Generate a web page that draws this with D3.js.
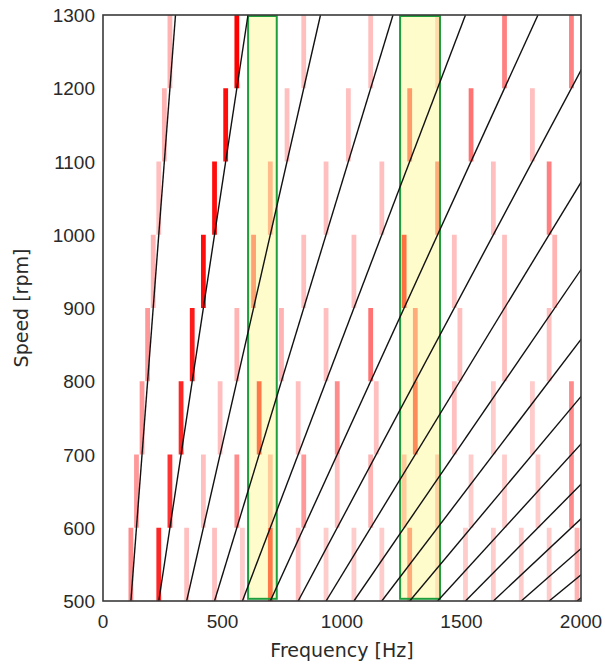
<!DOCTYPE html>
<html>
<head>
<meta charset="utf-8">
<script src="https://cdn.jsdelivr.net/npm/d3@7"></script>
<style>
  body { margin: 0; background: #fff; }
  #chart-area { width: 605px; height: 666px; }
</style>
</head>
<body>
<div id="chart-area"></div>
<script>
// base order of the excitation (bars sit on its harmonics)
var baseOrder = 14;

// lower rpm of each speed band (each band is 100 rpm tall)
var speeds = [500, 600, 700, 800, 900, 1000, 1100, 1200];
var bandHeight = 100;

// amplitude (0..1) of each harmonic, one list per speed band
var amp500 = [0.45, 0.85, 0.25, 0.25, 0.2, 0.8, 0.25, 0.2, 0.2, 0.2, 0.5, 0.15, 0.2, 0.2, 0.2, 0.2, 0.3];
var amp600 = [0.4, 0.8, 0.25, 0.45, 0.3, 0.4, 0.25, 0.3, 0.3, 0.25, 0.2, 0.2, 0.2, 0.45];
var amp700 = [0.4, 0.85, 0.25, 0.8, 0.25, 0.45, 0.25, 0.7, 0.25, 0.2, 0.2, 0.45];
var amp800 = [0.4, 0.9, 0.3, 0.3, 0.25, 0.55, 0.5, 0.25, 0.25, 0.25];
var amp900 = [0.3, 0.95, 0.55, 0.25, 0.25, 0.85, 0.25, 0.25, 0.3];
var amp1000 = [0.25, 0.95, 0.4, 0.25, 0.25, 0.5, 0.25, 0.5];
var amp1100 = [0.3, 0.95, 0.25, 0.25, 0.6, 0.55, 0.25];
var amp1200 = [0.3, 1.0, 0.25, 0.25, 0.2, 0.5, 0.5];
var amps = [amp500, amp600, amp700, amp800, amp900, amp1000, amp1100, amp1200];

// engine orders drawn as lines (multiples of the base order)
var orders = [14, 28, 42, 56, 70, 84, 98, 112, 126, 140, 154, 168, 182, 196, 210, 224, 238];

// highlighted frequency zones [Hz]
var zoneStart = [607, 1243];
var zoneEnd = [727, 1410];

var xTicks = [0, 500, 1000, 1500, 2000];
var yTicks = [500, 600, 700, 800, 900, 1000, 1100, 1200, 1300];

// set the dimensions and margins of the graph
var margin = { top: 15, right: 24, bottom: 65, left: 103 },
  width = 605 - margin.left - margin.right,
  height = 666 - margin.top - margin.bottom;

var svg = d3.select("#chart-area")
  .append("svg")
  .attr("width", 605)
  .attr("height", 666)
  .append("g")
  .attr("transform", "translate(" + margin.left + "," + margin.top + ")");

var x = d3.scaleLinear().domain([0, 2000]).range([0, width]);
var y = d3.scaleLinear().domain([500, 1300]).range([height, 0]);

svg.append("clipPath")
  .attr("id", "plot-clip")
  .append("rect")
  .attr("width", width)
  .attr("height", height);

var plot = svg.append("g").attr("clip-path", "url(#plot-clip)");

// build bars: one per harmonic per band
var bars = [];
speeds.forEach(function(r, i) {
  var f1 = baseOrder * r / 60;
  amps[i].forEach(function(a, j) {
    bars.push({ rpm: r, freq: f1 * (j + 1), amp: a });
  });
});

var barColor = d3.interpolateRgb("#ffffff", "#ff0000");
var halfW = 10; // Hz

plot.append("g")
  .selectAll("rect")
  .data(bars)
  .enter()
  .append("rect")
  .attr("x", function(d) { return x(d.freq - halfW); })
  .attr("width", function(d) { return x(d.freq + halfW) - x(d.freq - halfW); })
  .attr("y", function(d) { return y(d.rpm + bandHeight); })
  .attr("height", function(d) { return y(d.rpm) - y(d.rpm + bandHeight); })
  .style("fill", function(d) { return barColor(d.amp); });

// highlighted zones
plot.append("g")
  .selectAll("rect")
  .data(zoneStart)
  .enter()
  .append("rect")
  .attr("x", function(d) { return x(d); })
  .attr("width", function(d, i) { return x(zoneEnd[i]) - x(d); })
  .attr("y", y(1300) + 1)
  .attr("height", y(503) - y(1300) - 1)
  .style("fill", "rgb(255,248,112)")
  .style("fill-opacity", 0.36)
  .style("stroke", "#1f9e3c")
  .style("stroke-width", 2);

// order lines
plot.append("g")
  .selectAll("line")
  .data(orders)
  .enter()
  .append("line")
  .attr("x1", function(k) { return x(k * 500 / 60); })
  .attr("y1", y(500))
  .attr("x2", function(k) { return x(k * 1300 / 60); })
  .attr("y2", y(1300))
  .style("stroke", "#111")
  .style("stroke-width", 1.4);

// frame
svg.append("rect")
  .attr("width", width)
  .attr("height", height)
  .style("fill", "none")
  .style("stroke", "#3a3a3a")
  .style("stroke-width", 1.6);

// tick labels
svg.append("g")
  .selectAll("text")
  .data(xTicks)
  .enter()
  .append("text")
  .attr("x", function(d) { return x(d); })
  .attr("y", height + 27)
  .attr("text-anchor", "middle")
  .attr("font-family", "Liberation Sans, Arial, sans-serif")
  .attr("font-size", "19px")
  .attr("fill", "#2a2a2a")
  .text(function(d) { return d; });

svg.append("g")
  .selectAll("text")
  .data(yTicks)
  .enter()
  .append("text")
  .attr("x", -8)
  .attr("y", function(d) { return y(d) + 7; })
  .attr("text-anchor", "end")
  .attr("font-family", "Liberation Sans, Arial, sans-serif")
  .attr("font-size", "19px")
  .attr("fill", "#2a2a2a")
  .text(function(d) { return d; });

// axis titles
svg.append("text")
  .attr("x", width / 2)
  .attr("y", height + 56)
  .attr("text-anchor", "middle")
  .attr("font-family", "DejaVu Sans, sans-serif")
  .attr("font-size", "19px")
  .attr("fill", "#2a2a2a")
  .text("Frequency [Hz]");

svg.append("text")
  .attr("transform", "rotate(-90)")
  .attr("x", -height / 2)
  .attr("y", -75)
  .attr("text-anchor", "middle")
  .attr("font-family", "DejaVu Sans, sans-serif")
  .attr("font-size", "19px")
  .attr("fill", "#2a2a2a")
  .text("Speed [rpm]");
</script>
</body>
</html>
